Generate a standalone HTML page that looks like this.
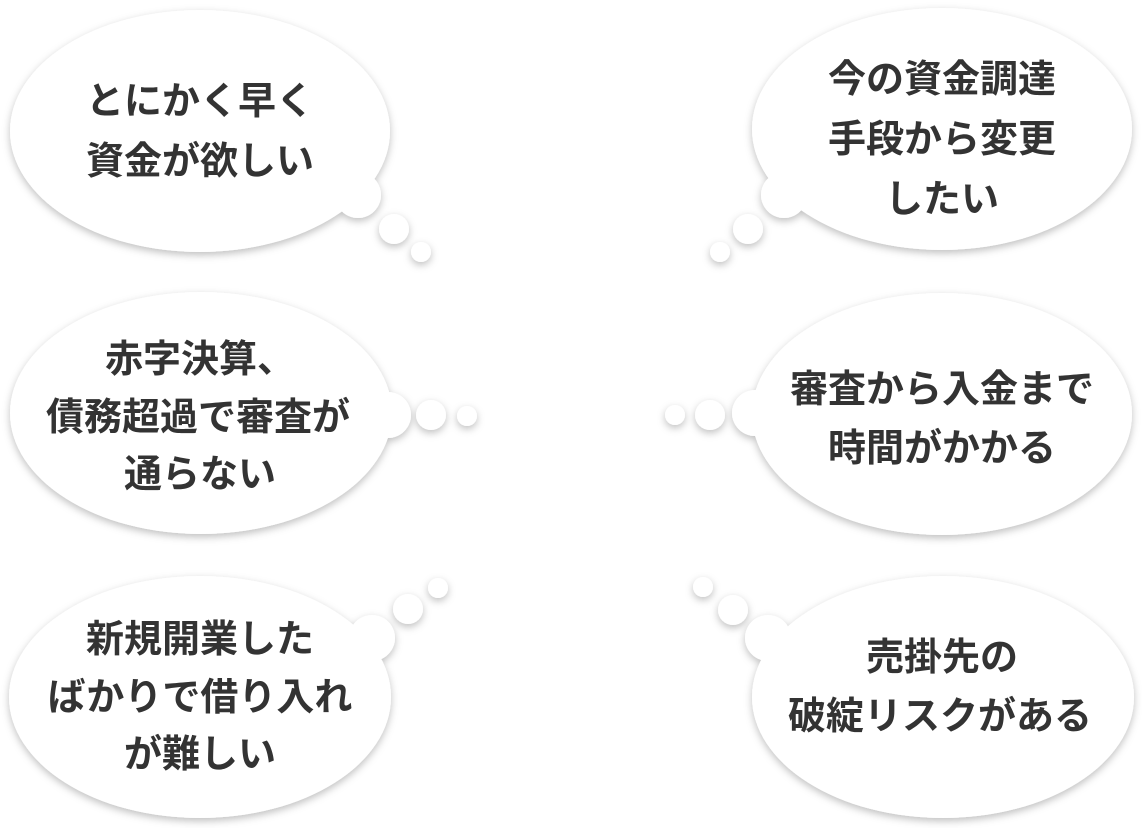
<!DOCTYPE html>
<html><head><meta charset="utf-8"><style>
html,body{margin:0;padding:0;background:#fff;}
svg{display:block}
text{font-family:"Liberation Sans","Noto Sans CJK JP",sans-serif;font-weight:bold;font-size:38px;fill:#333;text-anchor:middle;dominant-baseline:central}
</style></head><body>
<svg width="1142" height="828" viewBox="0 0 1142 828">
<defs><filter id="s" x="-10%" y="-10%" width="120%" height="130%"><feDropShadow dx="0" dy="3" stdDeviation="4" flood-color="#000" flood-opacity="0.25"/></filter></defs>
<g fill="#fff" filter="url(#s)">
<ellipse cx="200" cy="131" rx="190" ry="121"/><circle cx="358" cy="195" r="23"/><circle cx="394" cy="229" r="15"/><circle cx="421" cy="252" r="10"/>
<ellipse cx="942" cy="129" rx="190" ry="121"/><circle cx="784" cy="195" r="23"/><circle cx="748" cy="229" r="15"/><circle cx="720" cy="252" r="10"/>
<ellipse cx="201" cy="413" rx="191" ry="121"/><circle cx="388" cy="415" r="23"/><circle cx="431" cy="415" r="15"/><circle cx="467" cy="416" r="10"/>
<ellipse cx="942" cy="414" rx="190" ry="121"/><circle cx="755" cy="413" r="23"/><circle cx="710" cy="415" r="15"/><circle cx="675" cy="415" r="10"/>
<ellipse cx="200" cy="697" rx="191" ry="121"/><circle cx="372" cy="638" r="23"/><circle cx="408" cy="609" r="15"/><circle cx="438" cy="588" r="10"/>
<ellipse cx="943" cy="697" rx="191" ry="121"/><circle cx="768" cy="638" r="23"/><circle cx="733" cy="610" r="15"/><circle cx="703" cy="587" r="10"/>
</g>
<text x="200" y="102">とにかく早く</text><text x="200" y="162">資金が欲しい</text>
<text x="942" y="80">今の資金調達</text><text x="942" y="140">手段から変更</text><text x="942" y="200">したい</text>
<text x="200" y="360">赤字決算、</text><text x="198" y="418">債務超過で審査が</text><text x="200" y="475">通らない</text>
<text x="942" y="390">審査から入金まで</text><text x="942" y="449">時間がかかる</text>
<text x="200" y="640">新規開業した</text><text x="200" y="698">ばかりで借り入れ</text><text x="200" y="755">が難しい</text>
<text x="942" y="658">売掛先の</text><text x="940" y="717">破綻リスクがある</text>
</svg>
</body></html>
